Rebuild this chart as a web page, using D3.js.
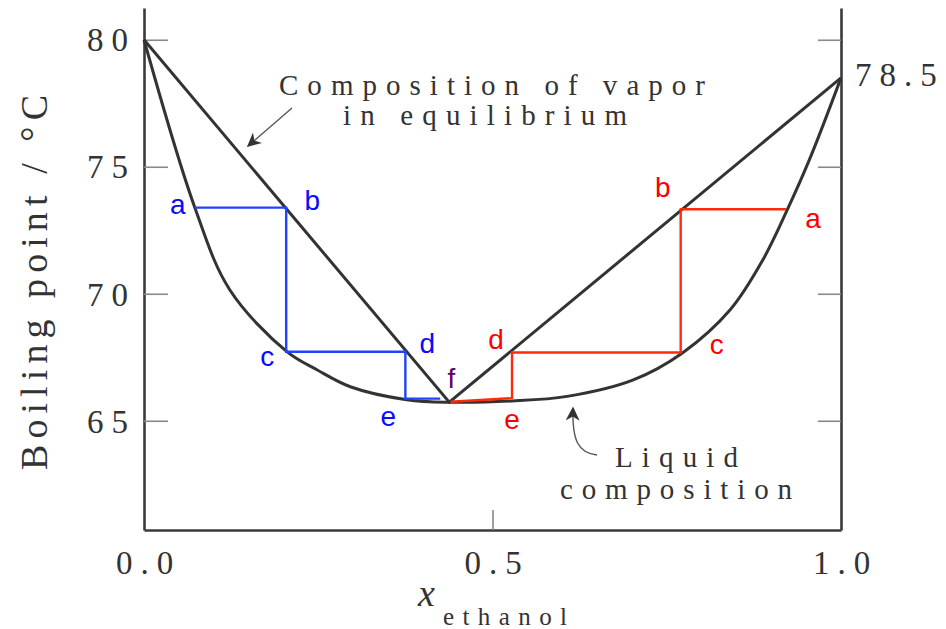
<!DOCTYPE html>
<html>
<head>
<meta charset="utf-8">
<script src="https://cdn.jsdelivr.net/npm/d3@7"></script>
<style>
  html, body { margin: 0; padding: 0; background: #fff; }
  svg { display: block; }
</style>
</head>
<body>
<svg id="chart" width="946" height="629"></svg>
<script>
// Boiling-point diagram for an ethanol mixture with a minimum-boiling azeotrope.

const xTicks = [0, 0.5, 1];
const xTickLabels = ["0.0", "0.5", "1.0"];
const yTicks = [65, 70, 75, 80];
const yTickLabels = ["65", "70", "75", "80"];

// Liquid (bubble-point) curve
const liquidX = [0, 0.073, 0.123, 0.205, 0.248, 0.296, 0.377, 0.438,
                 0.528, 0.607, 0.702, 0.773, 0.841, 0.888, 0.923, 0.955, 1.0];
const liquidT = [80, 73.39, 70.16, 67.72, 67.01, 66.34, 65.83, 65.73,
                 65.78, 65.96, 66.61, 67.68, 69.37, 71.34, 73.31, 75.3, 78.5];

// Vapor (dew-point) composition
const vaporX = [0, 0.438, 1];
const vaporT = [80, 65.73, 78.5];

// Distillation steps approaching the azeotrope from each side
const blueStepX = [0.073, 0.204, 0.204, 0.375, 0.375, 0.425];
const blueStepT = [73.39, 73.39, 67.72, 67.72, 65.87, 65.87];
const redStepX = [0.921, 0.770, 0.770, 0.528, 0.528, 0.440];
const redStepT = [73.33, 73.33, 67.69, 67.69, 65.89, 65.75];
const stepLabels = ["a", "b", "c", "d", "e"];

const svg = d3.select("#chart");

const x = d3.scaleLinear().domain([0, 1]).range([144, 841]);
const y = d3.scaleLinear().domain([60.7, 81.25]).range([530, 8]);

const serif = "'Liberation Serif', 'DejaVu Serif', 'Noto Serif', 'Times New Roman', Times, serif";
const sans = "'Liberation Sans', Arial, sans-serif";

// Axes
const axisColor = "#3a3a3a";
const tickColor = "#888";

function styleAxis(g) {
  g.select(".domain").attr("stroke", axisColor).attr("stroke-width", 2.6);
  g.selectAll(".tick line").attr("stroke", tickColor).attr("stroke-width", 1.6);
  g.selectAll(".tick text")
    .attr("fill", "#333")
    .style("font-family", serif)
    .style("font-size", "33px")
    .style("letter-spacing", "8px");
}

const leftAxis = svg.append("g")
  .attr("transform", `translate(${x(0)},0)`)
  .call(d3.axisLeft(y).tickValues(yTicks)
    .tickFormat((d, i) => yTickLabels[i])
    .tickSizeInner(-24).tickSizeOuter(0).tickPadding(8));
styleAxis(leftAxis);
leftAxis.selectAll(".tick text").attr("dy", "0.34em");

const rightAxis = svg.append("g")
  .attr("transform", `translate(${x(1)},0)`)
  .call(d3.axisRight(y).tickValues(yTicks).tickFormat("")
    .tickSizeInner(-23).tickSizeOuter(0));
styleAxis(rightAxis);

const bottomAxis = svg.append("g")
  .attr("transform", `translate(0,${y(60.7)})`)
  .call(d3.axisBottom(x).tickValues(xTicks)
    .tickFormat((d, i) => xTickLabels[i])
    .tickSizeInner(-20).tickSizeOuter(0).tickPadding(21));
styleAxis(bottomAxis);
bottomAxis.selectAll(".tick text").attr("dx", "4px");
bottomAxis.selectAll(".tick line").filter(d => d !== 0.5).remove();

// Curves
const line = d3.line().x(d => x(d[0])).y(d => y(d[1]));
const smooth = d3.line().x(d => x(d[0])).y(d => y(d[1])).curve(d3.curveCatmullRom.alpha(0.5));

svg.append("path")
  .datum(liquidX.map((v, i) => [v, liquidT[i]]))
  .attr("d", smooth)
  .attr("fill", "none").attr("stroke", "#333").attr("stroke-width", 3);

svg.append("path")
  .datum(vaporX.map((v, i) => [v, vaporT[i]]))
  .attr("d", line)
  .attr("fill", "none").attr("stroke", "#333").attr("stroke-width", 3)
  .attr("stroke-linejoin", "miter");

// Step constructions
const blueSteps = blueStepX.map((v, i) => [v, blueStepT[i]]);
const redSteps = redStepX.map((v, i) => [v, redStepT[i]]);

svg.append("path").datum(blueSteps).attr("d", line)
  .attr("fill", "none").attr("stroke", "#1e44ff").attr("stroke-width", 2.4);
svg.append("path").datum(redSteps).attr("d", line)
  .attr("fill", "none").attr("stroke", "#ff2a0a").attr("stroke-width", 2.4);

// Letter labels beside the step corners: [anchor index, dx, dy]
const blueLabelPos = [[0, -17, 6], [1, 26, 2], [2, -19, 14], [3, 22, 1], [4, -17, 27]];
const redLabelPos = [[0, 27, 19], [1, -18, -12], [2, 36, 2], [3, -16, -3], [4, 0, 31]];

function drawLabels(steps, pos, color) {
  svg.append("g").selectAll("text")
    .data(pos)
    .join("text")
    .attr("x", d => x(steps[d[0]][0]) + d[1])
    .attr("y", d => y(steps[d[0]][1]) + d[2])
    .attr("text-anchor", "middle")
    .attr("fill", color)
    .style("font-family", sans)
    .style("font-size", "28px")
    .text((d, i) => stepLabels[i]);
}
drawLabels(blueSteps, blueLabelPos, "#0a0aff");
drawLabels(redSteps, redLabelPos, "#ff0000");

svg.append("text")
  .attr("x", x(vaporX[1]) + 2).attr("y", y(vaporT[1]) - 14)
  .attr("text-anchor", "middle")
  .attr("fill", "#660066")
  .style("font-family", sans).style("font-size", "28px")
  .text("f");

// Value at the pure-ethanol end
svg.append("text")
  .attr("x", x(1) + 14).attr("y", y(vaporT[2]) + 8)
  .attr("fill", "#333")
  .style("font-family", serif).style("font-size", "33px")
  .style("letter-spacing", "8px")
  .text("78.5");

// Annotations
const annot = svg.append("g").attr("fill", "#333")
  .style("font-family", serif).style("font-size", "29px");

annot.append("text").attr("x", 279).attr("y", 95)
  .attr("textLength", 426).attr("lengthAdjust", "spacing")
  .text("Composition of vapor");
annot.append("text").attr("x", 343).attr("y", 125)
  .attr("textLength", 284).attr("lengthAdjust", "spacing")
  .text("in equilibrium");
annot.append("text").attr("x", 615).attr("y", 467)
  .attr("textLength", 123).attr("lengthAdjust", "spacing")
  .text("Liquid");
annot.append("text").attr("x", 560).attr("y", 499)
  .attr("textLength", 232).attr("lengthAdjust", "spacing")
  .text("composition");

// Pointer arrows
const defs = svg.append("defs");
defs.append("marker")
  .attr("id", "head")
  .attr("viewBox", "0 0 10 10")
  .attr("refX", 9).attr("refY", 5)
  .attr("markerWidth", 14).attr("markerHeight", 14)
  .attr("markerUnits", "userSpaceOnUse")
  .attr("orient", "auto")
  .append("path")
  .attr("d", "M0,0 L10,5 L0,10 L3,5 Z")
  .attr("fill", "#333");

svg.append("path")
  .attr("d", "M292,108 L248,146")
  .attr("fill", "none").attr("stroke", "#555").attr("stroke-width", 1.4)
  .attr("marker-end", "url(#head)");

svg.append("path")
  .attr("d", "M597,455 C578,453 572,440 573,408")
  .attr("fill", "none").attr("stroke", "#555").attr("stroke-width", 1.4)
  .attr("marker-end", "url(#head)");

// Axis titles
svg.append("text")
  .attr("transform", "translate(47,470) rotate(-90)")
  .attr("fill", "#333")
  .attr("textLength", 375).attr("lengthAdjust", "spacing")
  .style("font-family", serif).style("font-size", "38px")
  .text("Boiling point / °C");

const xt = svg.append("text")
  .attr("x", 418).attr("y", 606)
  .attr("fill", "#333")
  .style("font-family", serif);
xt.append("tspan").style("font-style", "italic").style("font-size", "38px").text("x");
xt.append("tspan").attr("x", 443).attr("y", 625)
  .attr("textLength", 124).attr("lengthAdjust", "spacing")
  .style("font-size", "25px").text("ethanol");
</script>
</body>
</html>
